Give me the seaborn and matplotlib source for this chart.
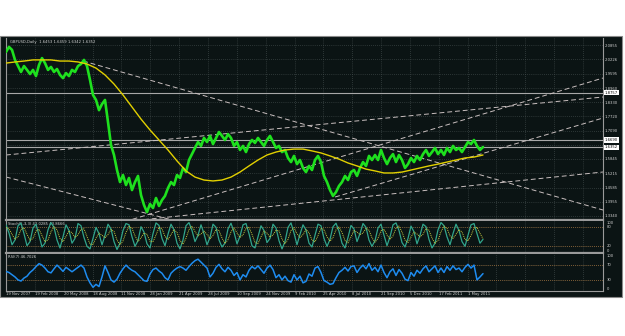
import numpy as np
import pandas as pd
import matplotlib
matplotlib.use("Agg")
import matplotlib.pyplot as plt
import matplotlib.transforms as mtrans
import seaborn as sns

# ---------------- data ----------------
chart_title = "GBPUSD,Daily  1.6453 1.6459 1.6342 1.6352"
stoch_title = "Stoch(5,3,3) 42.0285 43.8666"
rsi_title = "RSI(7) 46.7026"

# daily closes sampled along the chart (one value per ~6 bars)
price = [2.055, 2.077, 2.064, 2.020, 1.993, 1.967, 1.993, 1.976, 1.958, 1.976,
         1.949, 1.998, 2.028, 2.006, 1.976, 1.989, 1.967, 1.980, 1.954, 1.940,
         1.962, 1.949, 1.976, 1.967, 1.993, 2.002, 2.020, 1.993, 1.932, 1.866,
         1.844, 1.799, 1.826, 1.844, 1.747, 1.646, 1.602, 1.536, 1.483, 1.514,
         1.470, 1.501, 1.448, 1.483, 1.510, 1.426, 1.382, 1.351, 1.387, 1.369,
         1.413, 1.378, 1.404, 1.422, 1.457, 1.483, 1.470, 1.514, 1.501, 1.545,
         1.527, 1.580, 1.606, 1.633, 1.659, 1.642, 1.677, 1.659, 1.686, 1.650,
         1.677, 1.703, 1.686, 1.668, 1.694, 1.677, 1.642, 1.659, 1.624, 1.642,
         1.615, 1.650, 1.668, 1.655, 1.677, 1.659, 1.642, 1.668, 1.686, 1.659,
         1.633, 1.642, 1.615, 1.624, 1.589, 1.571, 1.598, 1.562, 1.580, 1.545,
         1.527, 1.554, 1.536, 1.580, 1.598, 1.571, 1.510, 1.483, 1.448, 1.422,
         1.439, 1.466, 1.483, 1.510, 1.492, 1.527, 1.536, 1.510, 1.545, 1.571,
         1.554, 1.598, 1.580, 1.602, 1.580, 1.624, 1.589, 1.562, 1.589, 1.606,
         1.571, 1.602, 1.580, 1.545, 1.562, 1.589, 1.571, 1.598, 1.580, 1.606,
         1.624, 1.598, 1.615, 1.633, 1.606, 1.624, 1.602, 1.633, 1.615, 1.642,
         1.624, 1.633, 1.615, 1.637, 1.659, 1.650, 1.668, 1.642, 1.624, 1.637]

# long moving average, one value per 3 price samples
moving_avg = [2.006, 2.011, 2.015, 2.020, 2.020, 2.020, 2.015, 2.015, 2.011, 2.002,
              1.984, 1.954, 1.914, 1.866, 1.813, 1.760, 1.712, 1.668, 1.624, 1.576,
              1.532, 1.505, 1.492, 1.488, 1.492, 1.505, 1.527, 1.554, 1.580, 1.602,
              1.615, 1.624, 1.628, 1.628, 1.620, 1.611, 1.598, 1.584, 1.567, 1.554,
              1.540, 1.532, 1.523, 1.523, 1.527, 1.536, 1.545, 1.554, 1.562, 1.571,
              1.580, 1.589, 1.593, 1.602]

stoch_main = [88, 62, 25, 40, 85, 93, 60, 22, 35, 78, 90, 55, 18, 30, 72, 95, 80, 40, 15, 50,
              88, 70, 30, 45, 92, 85, 48, 20, 12, 45, 80, 60, 25, 55, 90, 75, 35, 10, 30, 70,
              92, 88, 50, 20, 38, 82, 65, 28, 15, 60, 94, 86, 45, 22, 58, 90, 72, 30, 12, 40,
              85, 95, 70, 35, 55, 88, 60, 25, 48, 90, 80, 40, 18, 30, 75, 93, 65, 28, 52, 88,
              92, 60, 22, 15, 50, 85, 70, 32, 45, 90, 78, 38, 12, 35, 80, 94, 62, 25, 58, 88,
              72, 30, 18, 55, 90, 85, 45, 20, 42, 82, 93, 68, 30, 15, 48, 86, 75, 35, 60, 92,
              80, 40, 20, 38, 78, 90, 55, 22, 50, 88, 94, 70, 32, 18, 45, 84, 66, 28, 55, 90,
              82, 42, 15, 30, 72, 95, 85, 50, 25, 60, 90, 70, 35, 20, 55, 88, 92, 60, 30, 42]

stoch_signal = [80, 75, 58, 42, 50, 73, 79, 58, 39, 45, 68, 74, 54, 34, 40, 66, 82, 72, 45, 35,
                51, 69, 63, 48, 56, 74, 75, 51, 27, 26, 46, 62, 55, 47, 57, 73, 67, 40, 25, 37,
                64, 83, 77, 53, 36, 47, 62, 58, 36, 34, 56, 80, 75, 51, 42, 57, 73, 64, 38, 27,
                46, 73, 83, 67, 53, 59, 68, 58, 44, 54, 73, 70, 46, 29, 41, 66, 78, 62, 48, 56,
                77, 80, 58, 32, 29, 50, 68, 62, 49, 56, 71, 69, 43, 28, 42, 70, 79, 60, 48, 57,
                73, 63, 40, 34, 54, 77, 73, 50, 36, 48, 72, 81, 64, 38, 31, 50, 70, 65, 57, 62,
                77, 71, 47, 33, 45, 69, 74, 56, 42, 53, 77, 84, 65, 40, 32, 49, 65, 59, 50, 58,
                76, 71, 46, 29, 39, 66, 84, 77, 53, 45, 58, 73, 65, 42, 37, 54, 78, 80, 61, 44]

rsi_values = [53, 50, 44, 38, 30, 27, 35, 40, 50, 57, 66, 74, 70, 62, 52, 49, 60, 70, 62, 53,
              64, 58, 52, 58, 64, 70, 62, 38, 22, 10, 18, 12, 38, 68, 50, 30, 24, 32, 48, 60,
              70, 62, 56, 52, 44, 36, 28, 26, 46, 58, 62, 54, 48, 36, 30, 48, 56, 62, 66, 62,
              56, 66, 75, 82, 86, 78, 70, 62, 38, 48, 64, 72, 60, 52, 64, 56, 42, 50, 30, 44,
              38, 56, 66, 60, 68, 58, 48, 62, 70, 58, 36, 44, 30, 40, 28, 24, 44, 30, 40, 22,
              26, 46, 40, 62, 66, 50, 28, 24, 18, 20, 36, 50, 56, 64, 54, 66, 68, 50, 62, 70,
              60, 74, 56, 64, 52, 70, 50, 36, 52, 60, 42, 58, 48, 32, 28, 50, 40, 56, 48, 60,
              68, 52, 60, 68, 50, 62, 50, 66, 56, 68, 58, 62, 52, 64, 72, 62, 70, 30, 38, 47]

date_labels = ["19 Nov 2007", "19 Feb 2008", "20 May 2008", "18 Aug 2008", "11 Nov 2008",
               "28 Jan 2009", "21 Apr 2009", "28 Jul 2009", "10 Sep 2009", "24 Nov 2009",
               "9 Feb 2010", "25 Apr 2010", "8 Jul 2010", "21 Sep 2010", "5 Dec 2010",
               "17 Feb 2011", "1 May 2011"]

price_ticks = [2.0855, 2.0226, 1.9595, 1.8960, 1.8330, 1.7720, 1.7090, 1.6475,
               1.5845, 1.5215, 1.4585, 1.3955, 1.3340]
price_tick_labels = ["2.0855", "2.0226", "1.9595", "1.8960", "1.8330", "1.7720", "1.7090", "",
                     "1.5845", "1.5215", "1.4585", "1.3955", "1.3340"]

# horizontal price lines (drawn objects) with their axis boxes
level_lines = [1.8757, 1.6690, 1.6352]

# trend lines: (start sample, start price, end sample, end price)
trend_start_x = [25.7, 0.0, 39.7, 46.0, 0.0, 109.7]
trend_start_p = [2.0152, 1.5053, 1.3097, 1.3180, 1.6020, 1.4174]
trend_end_x = [199.0, 58.0, 199.0, 199.0, 199.0, 199.0]
trend_end_p = [1.3602, 1.3075, 1.9404, 1.5273, 1.8569, 1.7646]

stoch_levels = [80, 20]
rsi_levels = [70, 30]

# ---------------- layout ----------------
W, H = 625, 336
BG = "#0b1414"
FRAME = "#9a9a9a"
TXT = "#d2d2d2"
GRID = "#4c5656"
LEVEL = "#9a6a34"
FS = 2.7

sns.set_style("dark", rc={"axes.facecolor": BG, "figure.facecolor": "white",
                          "axes.edgecolor": FRAME, "grid.color": GRID})
plt.rcParams["font.family"] = ["DejaVu Sans"]

fig = plt.figure(figsize=(W / 100, H / 100), dpi=100)

# black terminal background (behind the axes)
bg_rect = matplotlib.patches.Rectangle((0, 1 - 297 / H), 622 / W, (297 - 36) / H,
                                       transform=fig.transFigure, facecolor=BG,
                                       edgecolor="#8a8a8a", linewidth=0.8, zorder=-10)
fig.add_artist(bg_rect)


def rect(x0, y0, x1, y1):
    return [x0 / W, 1 - y1 / H, (x1 - x0) / W, (y1 - y0) / H]


ax_main = fig.add_axes(rect(6, 38, 603, 220))
ax_sto = fig.add_axes(rect(6, 221, 603, 253))
ax_rsi = fig.add_axes(rect(6, 254, 603, 291))

step = 28.85 / 3.0           # samples between vertical grid lines
grid_x = [k * step for k in range(21)]
XMAX = 199.0

for ax in (ax_main, ax_sto, ax_rsi):
    ax.set_zorder(1)
    ax.set_facecolor(BG)
    ax.set_xlim(0, XMAX)
    ax.set_xticks(grid_x)
    ax.grid(True, axis="both", linestyle=(0, (1, 2)), linewidth=0.5, color=GRID)
    for side, sp in ax.spines.items():
        sp.set_color(FRAME)
        sp.set_linewidth(0.8)
    ax.spines["top"].set_visible(False)
    ax.tick_params(axis="both", length=0, colors=TXT, labelsize=FS, pad=1.4)
    ax.yaxis.tick_right()
ax_main.spines["bottom"].set_linewidth(1.6)
ax_sto.spines["bottom"].set_linewidth(1.6)
ax_main.set_xticklabels([])
ax_sto.set_xticklabels([])
ax_rsi.set_xticklabels(date_labels + [""] * (len(grid_x) - len(date_labels)), ha="left")
ax_rsi.tick_params(axis="x", pad=1.0)

# ---------------- main price panel ----------------
df_price = pd.DataFrame({"x": np.arange(len(price)), "price": price})
df_ma = pd.DataFrame({"x": np.arange(len(moving_avg)) * 3, "ma": moving_avg})

for lv in level_lines:
    ax_main.axhline(lv, color="#a8a8a8", linewidth=0.8, zorder=2)

for x0, p0, x1, p1 in zip(trend_start_x, trend_start_p, trend_end_x, trend_end_p):
    ax_main.plot([x0, x1], [p0, p1], color="#c9bfbf", linewidth=0.7,
                 dashes=(5, 3), zorder=2)

sns.lineplot(data=df_price, x="x", y="price", ax=ax_main, color="#1ee01e",
             linewidth=1.9, zorder=4, legend=False)
sns.lineplot(data=df_ma, x="x", y="ma", ax=ax_main, color="#e2d000",
             linewidth=1.0, zorder=5, legend=False)
ax_main.set_xlabel("")
ax_main.set_ylabel("")
ax_main.set_xlim(0, XMAX)
ax_main.set_ylim(1.3163, 2.1163)
ax_main.set_yticks(price_ticks)
ax_main.set_yticklabels(price_tick_labels)

blend = mtrans.blended_transform_factory(ax_main.transAxes, ax_main.transData)
for lv in level_lines:
    ax_main.text(1.003, lv, f"{lv:.4f}", transform=blend, fontsize=FS, color="black",
                 va="center", ha="left",
                 bbox=dict(boxstyle="square,pad=0.2", facecolor="white", edgecolor="none"))

ax_main.text(0.006, 0.99, chart_title, transform=ax_main.transAxes, fontsize=FS,
             color=TXT, va="top", ha="left")

# ---------------- stochastic panel ----------------
df_sto = pd.DataFrame({"x": np.arange(len(stoch_main)), "main": stoch_main,
                       "signal": stoch_signal})
for lv in stoch_levels:
    ax_sto.axhline(lv, color=LEVEL, linewidth=0.6, linestyle=(0, (1, 1.5)), zorder=2)
sns.lineplot(data=df_sto, x="x", y="main", ax=ax_sto, color="#31a58c",
             linewidth=0.9, zorder=4, legend=False)
sns.lineplot(data=df_sto, x="x", y="signal", ax=ax_sto, color="#c8cc40",
             linewidth=0.7, linestyle=(0, (1, 1)), zorder=5, legend=False)
ax_sto.set_xlabel("")
ax_sto.set_ylabel("")
ax_sto.set_xlim(0, XMAX)
ax_sto.set_ylim(-1, 100)
ax_sto.set_yticks(stoch_levels)
ax_sto.set_yticklabels([])
ax_sto.text(0.004, 0.97, stoch_title, transform=ax_sto.transAxes, fontsize=FS,
            color=TXT, va="top", ha="left")
bl_s = mtrans.blended_transform_factory(ax_sto.transAxes, ax_sto.transData)
for val, txt, va in [(100, "100", "top"), (80, "80", "center"), (20, "20", "center"), (0, "0", "bottom")]:
    ax_sto.text(1.006, val, txt, transform=bl_s, fontsize=FS, color=TXT, va=va, ha="left")

# ---------------- RSI panel ----------------
df_rsi = pd.DataFrame({"x": np.arange(len(rsi_values)), "rsi": rsi_values})
for lv in rsi_levels:
    ax_rsi.axhline(lv, color=LEVEL, linewidth=0.6, linestyle=(0, (1, 1.5)), zorder=2)
sns.lineplot(data=df_rsi, x="x", y="rsi", ax=ax_rsi, color="#1e8cf0",
             linewidth=1.1, zorder=4, legend=False)
ax_rsi.set_xlabel("")
ax_rsi.set_ylabel("")
ax_rsi.set_xlim(0, XMAX)
ax_rsi.set_ylim(0, 100)
ax_rsi.set_yticks(rsi_levels)
ax_rsi.set_yticklabels([])
ax_rsi.text(0.004, 0.97, rsi_title, transform=ax_rsi.transAxes, fontsize=FS,
            color=TXT, va="top", ha="left")
bl_r = mtrans.blended_transform_factory(ax_rsi.transAxes, ax_rsi.transData)
for val, txt, va in [(100, "100", "top"), (70, "70", "center"), (30, "30", "center"), (0, "0", "bottom")]:
    ax_rsi.text(1.006, val, txt, transform=bl_r, fontsize=FS, color=TXT, va=va, ha="left")

fig.savefig("out.png", dpi=100, facecolor="white")
